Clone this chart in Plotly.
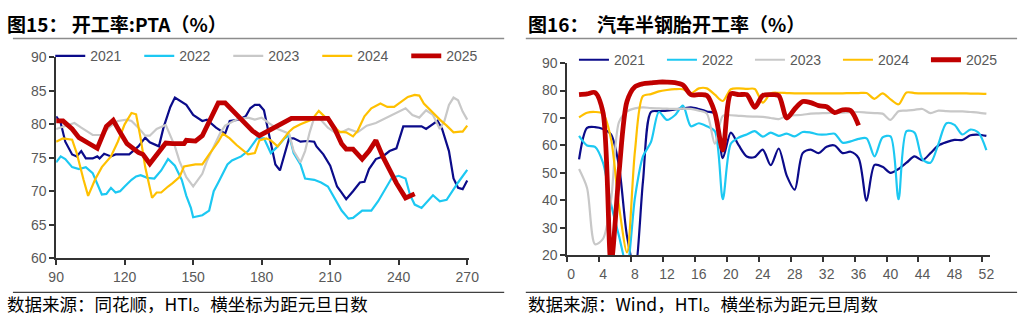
import plotly.graph_objects as go

# ---------------- Left chart: PTA operating rate (days since New Year) ----------------
pta_2021_days = [90, 92, 94, 97, 99, 101, 103, 106, 108, 109, 111, 114, 116, 122, 126, 129, 131, 135, 137, 140, 142, 145, 147, 150, 154, 156, 160, 164, 166, 170, 173, 175, 177, 179, 181, 183, 186, 188, 190, 192, 194, 197, 200, 203, 204, 207, 210, 213, 215, 217, 220, 223, 225, 227, 230, 233, 236, 239, 242, 246, 250, 252, 255, 257, 259, 262, 264, 266, 268, 270]
pta_2021_vals = [81.2, 80.2, 77.4, 75.5, 75.2, 76.0, 74.9, 74.9, 75.2, 74.9, 75.6, 75.2, 75.5, 75.5, 76.7, 78.0, 77.3, 76.7, 79.5, 82.6, 84.0, 83.3, 82.9, 81.4, 80.5, 80.7, 79.5, 78.6, 80.5, 80.7, 81.2, 82.4, 82.9, 82.9, 82.1, 78.8, 74.0, 73.1, 75.5, 77.9, 77.9, 77.4, 77.5, 77.4, 76.7, 75.5, 73.8, 70.7, 69.8, 68.8, 70.0, 71.3, 71.4, 73.3, 74.8, 75.2, 76.0, 76.4, 79.7, 79.7, 79.7, 79.3, 80.0, 80.5, 79.3, 76.0, 71.9, 70.5, 70.3, 71.6]

pta_2022_days = [90, 92, 94, 97, 100, 103, 106, 108, 110, 112, 114, 116, 118, 120, 123, 125, 127, 130, 133, 136, 139, 142, 145, 147, 149, 150, 154, 157, 159, 161, 163, 165, 167, 171, 174, 178, 181, 184, 187, 190, 192, 194, 197, 199, 203, 206, 209, 212, 215, 218, 220, 224, 228, 231, 235, 237, 240, 243, 245, 247, 250, 252, 255, 258, 261, 266, 270]
pta_2022_vals = [74.3, 75.2, 74.8, 73.6, 73.3, 73.6, 72.7, 71.2, 69.5, 69.6, 70.5, 69.8, 70.0, 70.7, 71.7, 72.2, 72.4, 72.0, 71.9, 73.1, 74.8, 73.8, 71.7, 69.3, 67.5, 66.1, 66.4, 67.1, 70.0, 71.3, 72.6, 74.0, 74.6, 75.2, 76.0, 77.9, 77.9, 75.7, 76.7, 77.9, 78.4, 75.7, 74.0, 71.9, 71.7, 71.3, 70.7, 69.0, 67.1, 65.9, 66.0, 67.1, 67.1, 68.5, 70.8, 72.0, 72.3, 71.9, 69.4, 68.0, 67.5, 68.2, 69.4, 68.5, 68.7, 71.3, 73.2]

pta_2023_days = [90, 94, 98, 101, 106, 110, 113, 117, 121, 123, 126, 129, 131, 134, 138, 140, 142, 144, 147, 150, 154, 156, 159, 162, 164, 169, 174, 177, 180, 183, 187, 192, 194, 197, 199, 201, 203, 205, 209, 212, 215, 218, 222, 226, 230, 235, 239, 243, 246, 249, 252, 255, 258, 260, 262, 264, 266, 268, 270]
pta_2023_vals = [79.3, 79.8, 80.2, 79.5, 78.4, 78.4, 79.5, 80.5, 80.7, 80.5, 79.5, 78.3, 78.3, 79.3, 79.9, 78.3, 76.7, 74.5, 72.1, 70.7, 72.6, 74.5, 76.7, 78.8, 79.8, 80.7, 81.0, 80.7, 81.0, 80.2, 79.3, 78.6, 76.0, 74.3, 76.0, 78.8, 81.0, 81.0, 79.5, 78.8, 78.8, 79.3, 78.8, 79.8, 80.2, 81.0, 81.7, 82.4, 81.4, 81.0, 82.1, 81.4, 79.3, 80.5, 82.9, 84.0, 83.6, 81.9, 80.7]

pta_2024_days = [90, 93, 97, 99, 102, 104, 107, 110, 114, 117, 120, 123, 125, 127, 129, 132, 134, 136, 139, 141, 144, 146, 151, 154, 157, 161, 163, 166, 169, 172, 174, 177, 179, 182, 184, 187, 189, 192, 194, 197, 202, 205, 208, 211, 214, 217, 220, 222, 225, 228, 232, 235, 238, 241, 244, 247, 249, 251, 255, 258, 261, 264, 267, 268, 270]
pta_2024_vals = [77.4, 77.9, 77.7, 75.7, 71.7, 69.3, 71.7, 73.6, 75.2, 77.4, 80.0, 81.7, 81.5, 77.9, 73.6, 69.0, 69.8, 69.8, 70.7, 71.2, 72.1, 73.7, 74.0, 74.0, 75.5, 77.4, 78.6, 77.9, 76.9, 76.0, 75.5, 75.7, 77.6, 77.9, 77.6, 76.7, 77.6, 78.9, 79.5, 80.0, 80.7, 82.0, 81.0, 79.8, 78.9, 78.8, 78.2, 79.0, 81.2, 82.4, 83.1, 82.6, 82.6, 83.3, 84.1, 84.4, 84.3, 83.1, 81.7, 80.7, 79.8, 78.8, 78.9, 78.9, 79.8]

pta_2025_days = [90, 93, 97, 100, 104, 108, 112, 115, 118, 121, 126, 128, 131, 134, 138, 141, 146, 147, 151, 154, 159, 161, 164, 167, 172, 176, 179, 183, 187, 192, 193, 209, 212, 215, 217, 220, 224, 227, 230, 233, 236, 239, 243, 245, 247]
pta_2025_vals = [80.5, 80.5, 79.3, 78.0, 77.2, 76.4, 79.7, 80.6, 78.8, 77.1, 75.8, 75.5, 74.1, 75.5, 77.2, 77.1, 77.1, 77.6, 77.5, 78.3, 81.9, 83.2, 83.2, 82.1, 80.5, 79.0, 78.3, 79.0, 79.8, 80.7, 80.9, 80.9, 79.3, 77.1, 76.3, 76.3, 74.8, 76.0, 77.6, 75.2, 73.1, 71.2, 69.0, 69.3, 69.6]

# ---------------- Right chart: semi-steel tyre operating rate (weeks) ----------------
weeks = list(range(1, 53))
week_labels = [str(w) for w in range(0, 53, 4)]
tyre_2021 = [54.9, 66.4, 66.7, 66.0, 64.0, 52.5, 27.0, 15.0, 46.8, 72.2, 72.5, 72.7, 73.1, 73.5, 73.9, 73.3, 72.4, 71.6, 55.4, 64.7, 60.0, 56.0, 55.8, 58.5, 52.8, 58.9, 49.0, 43.9, 57.2, 58.5, 57.2, 59.5, 60.0, 57.2, 57.7, 55.4, 39.9, 52.9, 52.2, 50.0, 51.4, 53.7, 56.0, 54.6, 57.2, 60.0, 61.2, 62.0, 62.0, 63.7, 63.9, 63.5]
tyre_2022 = [63.5, 60.0, 59.5, 53.7, 38.7, 27.0, 16.0, 41.0, 56.0, 61.2, 72.2, 69.3, 71.0, 74.5, 67.0, 68.1, 67.0, 65.2, 40.4, 60.6, 62.9, 64.0, 65.2, 63.2, 64.7, 63.5, 64.3, 63.3, 64.9, 64.7, 64.0, 64.0, 64.3, 61.0, 61.5, 62.4, 62.6, 56.0, 62.9, 63.3, 40.4, 65.2, 64.7, 54.9, 53.7, 60.6, 68.1, 67.5, 64.0, 65.8, 64.7, 58.3]
tyre_2023 = [51.4, 44.5, 24.0, 26.0, 40.0, 68.5, 72.4, 73.5, 73.9, 73.6, 73.5, 73.4, 73.3, 73.4, 73.3, 72.7, 71.6, 60.6, 70.8, 71.0, 70.8, 70.6, 70.5, 70.4, 70.0, 69.6, 70.8, 71.0, 71.2, 71.6, 71.7, 71.8, 71.9, 72.0, 72.1, 72.2, 72.0, 71.8, 71.6, 69.3, 72.5, 72.7, 73.0, 73.3, 71.8, 72.7, 72.5, 72.4, 72.4, 72.2, 72.0, 71.6]
tyre_2024 = [70.2, 71.9, 72.2, 71.6, 62.4, 38.0, 21.0, 58.0, 78.0, 78.7, 79.7, 80.2, 80.5, 80.5, 79.0, 80.8, 80.8, 78.5, 76.2, 80.5, 80.8, 80.6, 80.6, 75.6, 79.0, 79.2, 79.1, 79.0, 79.0, 79.0, 79.0, 79.0, 79.0, 79.0, 79.1, 79.1, 79.1, 77.0, 79.0, 76.8, 75.0, 79.3, 79.1, 79.0, 79.0, 79.0, 79.0, 79.0, 79.0, 78.9, 78.9, 78.8]
tyre_2025 = [78.5, 78.8, 79.3, 72.0, 17.0, 50.0, 76.0, 81.4, 82.5, 82.8, 83.1, 83.1, 82.9, 82.0, 78.5, 78.5, 78.2, 72.0, 58.3, 78.8, 78.5, 78.5, 73.9, 78.2, 78.5, 78.2, 70.0, 73.3, 76.0, 75.6, 74.5, 74.1, 72.0, 73.0, 72.7, 67.3]

years = ["2021", "2022", "2023", "2024", "2025"]
colors = {"2021": "#0B0B8A", "2022": "#1CC8F2", "2023": "#C8C8C8", "2024": "#FFC000", "2025": "#C00000"}
widths = {"2021": 2.2, "2022": 2.2, "2023": 2.2, "2024": 2.2, "2025": 4.8}

pta = {
    "2021": (pta_2021_days, pta_2021_vals),
    "2022": (pta_2022_days, pta_2022_vals),
    "2023": (pta_2023_days, pta_2023_vals),
    "2024": (pta_2024_days, pta_2024_vals),
    "2025": (pta_2025_days, pta_2025_vals),
}
tyre = {"2021": tyre_2021, "2022": tyre_2022, "2023": tyre_2023, "2024": tyre_2024, "2025": tyre_2025}

W, H = 1032, 325
fig = go.Figure()

for y in years:
    d, v = pta[y]
    fig.add_trace(go.Scatter(x=d, y=v, mode="lines", name=y, legend="legend",
                             line=dict(color=colors[y], width=widths[y]),
                             xaxis="x", yaxis="y"))
for y in years:
    v = tyre[y]
    fig.add_trace(go.Scatter(x=weeks[:len(v)], y=v, mode="lines", name=y, legend="legend2",
                             line=dict(color=colors[y], width=widths[y], shape="spline", smoothing=0.8),
                             xaxis="x2", yaxis="y2"))

def px_x(p):
    return p / W

def px_y(p):
    return 1 - p / H

tickfont = dict(family="Liberation Sans, Arial", size=14, color="#595959")
axis_common = dict(showline=True, linecolor="#333333", linewidth=1.5, ticks="outside",
                   tickcolor="#333333", ticklen=5, tickwidth=1.5, showgrid=False,
                   zeroline=False, tickfont=tickfont, fixedrange=True)

# category-boundary ticks for the weekly axis, labels centred on the week
week_tick_pos = [int(l) - 0.5 for l in week_labels]

legfont = dict(family="Liberation Sans, Arial", size=14, color="#595959")
fig.update_layout(
    width=W, height=H,
    margin=dict(l=0, r=0, t=0, b=0),
    paper_bgcolor="white", plot_bgcolor="white",
    showlegend=True,
    xaxis=dict(domain=[px_x(49), px_x(469)], range=[90, 270.7], anchor="y",
               tickvals=[90, 120, 150, 180, 210, 240, 270], **axis_common),
    yaxis=dict(domain=[px_y(263), px_y(52)], range=[60, 90], anchor="x",
               tickvals=[60, 65, 70, 75, 80, 85, 90], **axis_common),
    xaxis2=dict(domain=[px_x(569), px_x(999)], range=[-0.5, 52.4], anchor="y2",
                tickvals=week_tick_pos, ticktext=week_labels, ticklabelshift=4, **axis_common),
    yaxis2=dict(domain=[px_y(260), px_y(58)], range=[20, 90], anchor="x2",
                tickvals=[20, 30, 40, 50, 60, 70, 80, 90], **axis_common),
    legend=dict(orientation="h", x=px_x(43), y=px_y(34), xanchor="left", yanchor="top",
                bgcolor="rgba(0,0,0,0)", font=legfont,
                entrywidth=44, entrywidthmode="pixels", tracegroupgap=0),
    legend2=dict(orientation="h", x=px_x(576), y=px_y(38), xanchor="left", yanchor="top",
                 bgcolor="rgba(0,0,0,0)", font=legfont,
                 entrywidth=43, entrywidthmode="pixels", tracegroupgap=0),
)

titlefont = dict(family="Noto Sans CJK SC", size=19, color="#000000")
notefont = dict(family="Noto Sans CJK SC", size=17.5, color="#000000")
annotations = [
    dict(text="<b>图15： 开工率:PTA（%）</b>", x=px_x(-3), y=px_y(16), xanchor="left", yanchor="middle",
         align="left", xref="paper", yref="paper", showarrow=False, font=titlefont),
    dict(text="<b>图16：  汽车半钢胎开工率（%）</b>", x=px_x(527), y=px_y(16), xanchor="left", yanchor="middle",
         align="left", xref="paper", yref="paper", showarrow=False, font=titlefont),
    dict(text="数据来源：同花顺，HTI。横坐标为距元旦日数", x=px_x(-3), y=px_y(311), xanchor="left", yanchor="middle",
         align="left", xref="paper", yref="paper", showarrow=False, font=notefont),
    dict(text="数据来源：Wind，HTI。横坐标为距元旦周数", x=px_x(527), y=px_y(311), xanchor="left", yanchor="middle",
         align="left", xref="paper", yref="paper", showarrow=False, font=notefont),
]
fig.update_layout(annotations=annotations)

shapes = []
for x0, x1 in [(5, 505), (527, 1027)]:
    shapes.append(dict(type="line", xref="paper", yref="paper", x0=px_x(x0), x1=px_x(x1),
                       y0=px_y(32), y1=px_y(32), line=dict(color="#8C8C8C", width=1.5)))
    shapes.append(dict(type="line", xref="paper", yref="paper", x0=px_x(x0), x1=px_x(x1),
                       y0=px_y(299), y1=px_y(299), line=dict(color="#404040", width=1.2)))
fig.update_layout(shapes=shapes)

fig.write_html("out.html")
